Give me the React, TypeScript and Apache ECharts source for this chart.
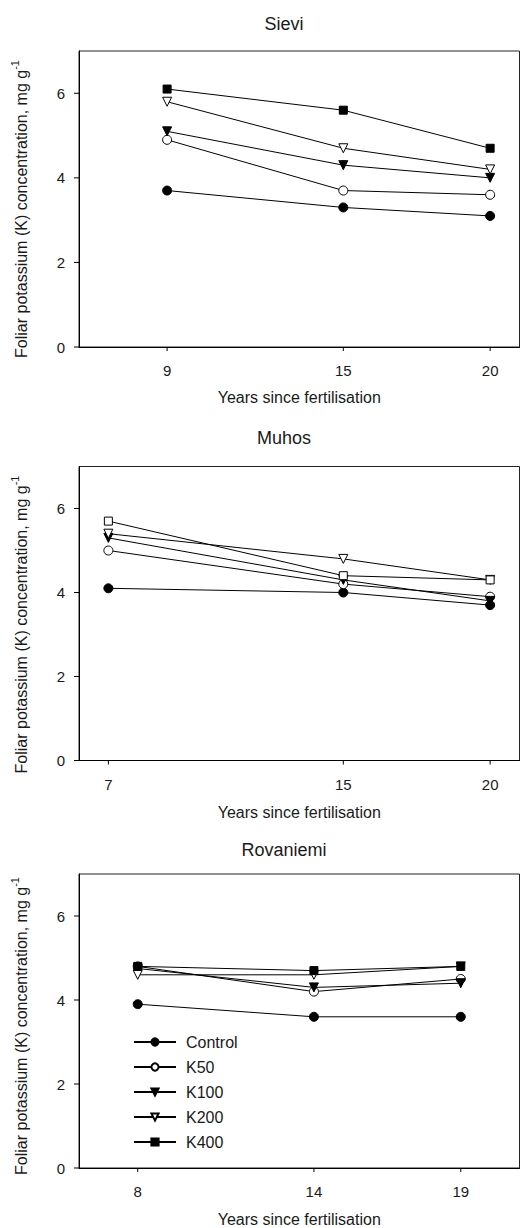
import React, { useEffect, useRef } from "react";
import * as echarts from "echarts";

const FONT = "'Liberation Sans', Arial, sans-serif";

const treatments = ["Control", "K50", "K100", "K200", "K400"];

const sites = ["Sievi", "Muhos", "Rovaniemi"];

const sieviYears = [9, 15, 20];
const sieviControl = [3.7, 3.3, 3.1];
const sieviK50 = [4.9, 3.7, 3.6];
const sieviK100 = [5.1, 4.3, 4.0];
const sieviK200 = [5.8, 4.7, 4.2];
const sieviK400 = [6.1, 5.6, 4.7];

const muhosYears = [7, 15, 20];
const muhosControl = [4.1, 4.0, 3.7];
const muhosK50 = [5.0, 4.2, 3.9];
const muhosK100 = [5.3, 4.3, 3.8];
const muhosK200 = [5.4, 4.8, 4.3];
const muhosK400 = [5.7, 4.4, 4.3];

const rovaniemiYears = [8, 14, 19];
const rovaniemiControl = [3.9, 3.6, 3.6];
const rovaniemiK50 = [4.8, 4.2, 4.5];
const rovaniemiK100 = [4.75, 4.3, 4.4];
const rovaniemiK200 = [4.6, 4.6, 4.8];
const rovaniemiK400 = [4.8, 4.7, 4.8];

const yTicks = [0, 2, 4, 6];
const xMin = 6;
const xMax = 21;
const yMin = 0;
const yMax = 7;
const xLabel = "Years since fertilisation";
const yLabel = "Foliar potassium (K) concentration, mg g";
const ySup = "-1";

const panelYears = [sieviYears, muhosYears, rovaniemiYears];
const panelValues = [
  [sieviControl, sieviK50, sieviK100, sieviK200, sieviK400],
  [muhosControl, muhosK50, muhosK100, muhosK200, muhosK400],
  [rovaniemiControl, rovaniemiK50, rovaniemiK100, rovaniemiK200, rovaniemiK400],
];

// layout (pixels)
const grids = [
  { top: 51, height: 296 },
  { top: 466.5, height: 294 },
  { top: 874, height: 295 },
];
const titleY = [24, 438, 850];
const xNameGap = [42, 44, 43];
const yNamePad = [20, 22, 10];

const markerStyles: Record<string, any> = {
  Control: { symbol: "circle", size: 9, fill: "#000", rotate: 0 },
  K50: { symbol: "circle", size: 9, fill: "#fff", rotate: 0 },
  K100: { symbol: "triangle", size: 9, fill: "#000", rotate: 180 },
  K200: { symbol: "triangle", size: 9, fill: "#fff", rotate: 180 },
  K400: { symbol: "rect", size: 8, fill: "#000", rotate: 0 },
};

export default function App() {
  const ref = useRef<HTMLDivElement>(null);
  useEffect(() => {
    if (!ref.current) return;
    const chart = echarts.init(ref.current, null, { renderer: "svg" });

    const series: any[] = [];
    panelValues.forEach((panel, p) => {
      treatments.forEach((t, i) => {
        const ms = markerStyles[t];
        let fill = ms.fill;
        if (p === 1 && t === "K400") fill = "#fff";
        series.push({
          type: "line",
          name: t,
          xAxisIndex: p,
          yAxisIndex: p,
          data: panelYears[p].map((yr, k) => [yr, panel[i][k]]),
          symbol: ms.symbol,
          symbolSize: ms.size,
          symbolRotate: ms.rotate,
          showAllSymbol: true,
          lineStyle: { color: "#000", width: 1 },
          itemStyle: { color: fill, borderColor: "#000", borderWidth: 1 },
          z: 2 + i,
        });
      });
      // x-axis tick marks (outward) through the axis scale
      series.push({
        type: "custom",
        name: "xticks" + p,
        xAxisIndex: p,
        yAxisIndex: p,
        clip: false,
        silent: true,
        data: panelYears[p].map((yr) => [yr, yMin]),
        renderItem: (params: any, api: any) => {
          const pt = api.coord([api.value(0), api.value(1)]);
          return {
            type: "line",
            shape: { x1: pt[0], y1: pt[1], x2: pt[0], y2: pt[1] + 4 },
            style: { stroke: "#000", lineWidth: 1 },
          };
        },
        z: 1,
      });
      // y-axis tick marks (outward)
      series.push({
        type: "custom",
        name: "yticks" + p,
        xAxisIndex: p,
        yAxisIndex: p,
        clip: false,
        silent: true,
        data: yTicks.map((v) => [xMin, v]),
        renderItem: (params: any, api: any) => {
          const pt = api.coord([api.value(0), api.value(1)]);
          return {
            type: "line",
            shape: { x1: pt[0], y1: pt[1], x2: pt[0] - 5, y2: pt[1] },
            style: { stroke: "#000", lineWidth: 1 },
          };
        },
        z: 1,
      });
    });

    const option: any = {
      animation: false,
      grid: grids.map((g) => ({
        left: 79,
        right: 2.5,
        top: g.top,
        height: g.height,
        show: true,
        borderColor: "#222",
        borderWidth: 1,
      })),
      xAxis: grids.map((g, p) => ({
        type: "value",
        gridIndex: p,
        min: xMin,
        max: xMax,
        splitLine: { show: false },
        axisLine: { show: true, onZero: false, lineStyle: { color: "#000", width: 1 } },
        axisTick: { show: false },
        axisLabel: {
          customValues: panelYears[p],
          margin: 16,
          fontFamily: FONT,
          fontSize: 15,
          color: "#1a1a1a",
        },
        name: xLabel,
        nameLocation: "middle",
        nameGap: xNameGap[p],
        nameTextStyle: { fontFamily: FONT, fontSize: 16, color: "#1a1a1a" },
      })),
      yAxis: grids.map((g, p) => ({
        type: "value",
        gridIndex: p,
        min: yMin,
        max: yMax,
        splitLine: { show: false },
        axisLine: { show: true, onZero: false, lineStyle: { color: "#000", width: 1 } },
        axisTick: { show: false },
        axisLabel: {
          customValues: yTicks,
          margin: 14,
          fontFamily: FONT,
          fontSize: 15,
          color: "#1a1a1a",
        },
        name: `{a|${yLabel}}{s|${ySup}}`,
        nameLocation: "middle",
        nameRotate: 90,
        nameGap: 50,
        nameTextStyle: {
          fontFamily: FONT,
          fontSize: 16,
          color: "#1a1a1a",
          padding: [0, yNamePad[p], 0, 0],
          rich: {
            a: { fontFamily: FONT, fontSize: 16, color: "#1a1a1a", lineHeight: 20, verticalAlign: "bottom" },
            s: { fontFamily: FONT, fontSize: 11, color: "#1a1a1a", lineHeight: 11, verticalAlign: "top" },
          },
        },
      })),
      legend: {
        show: true,
        orient: "vertical",
        left: 133,
        top: 1034,
        padding: 0,
        itemWidth: 42,
        itemHeight: 9,
        itemGap: 9,
        selectedMode: false,
        data: treatments,
        textStyle: { fontFamily: FONT, fontSize: 16, color: "#1a1a1a", padding: [0, 0, 0, 5] },
      },
      graphic: sites.map((s, p) => ({
        type: "text",
        x: 284,
        y: titleY[p],
        style: {
          text: s,
          fontFamily: FONT,
          fontSize: 18,
          fill: "#1a1a1a",
          align: "center",
          verticalAlign: "middle",
        },
      })),
      series,
    };
    chart.setOption(option);
    return () => chart.dispose();
  }, []);
  return (
    <div
      ref={ref}
      style={{ position: "absolute", left: 0, top: 0, width: 522, height: 1228, background: "#fff" }}
    />
  );
}
